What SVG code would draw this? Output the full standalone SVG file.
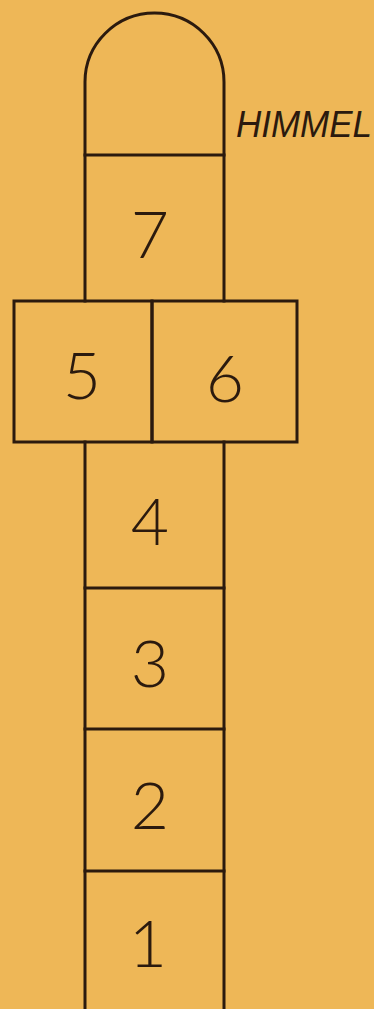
<svg xmlns="http://www.w3.org/2000/svg" width="374" height="1009" viewBox="0 0 374 1009">
<style>
.ln{fill:none;stroke:#2b1a0e;stroke-width:3;stroke-linecap:square}
.num{font-family:Lato,"Liberation Sans",sans-serif;font-weight:300;font-size:66px;fill:#2b1a0e;text-anchor:middle}
.lbl{font-family:"Liberation Sans",Arial,sans-serif;font-style:italic;font-size:36px;fill:#2b1a0e}
</style>
<rect width="374" height="1009" fill="#EEB757"/>
<g id="connectors">
<path class="ln" d="M85,301 V82 A69.5,69 0 0 1 224,82 V301"/>
<path class="ln" d="M85,442 V1009 M224,442 V1009"/>
</g>
<g id="himmel"><path class="ln" d="M85,155 H224"/><text class="lbl" x="236" y="137" textLength="136" lengthAdjust="spacingAndGlyphs">HIMMEL</text></g>
<g id="f7"><text class="num" x="150" y="258">7</text></g>
<g id="f5"><rect class="ln" x="14" y="301" width="138" height="141"/><text class="num" x="82" y="399">5</text></g>
<g id="f6"><rect class="ln" x="152" y="301" width="145" height="141"/><text class="num" x="225" y="402">6</text></g>
<g id="f4"><text class="num" x="150" y="545">4</text></g>
<g id="f3"><path class="ln" d="M85,588 H224"/><text class="num" x="150" y="687">3</text></g>
<g id="f2"><path class="ln" d="M85,729 H224"/><text class="num" x="150" y="829">2</text></g>
<g id="f1"><path class="ln" d="M85,871 H224"/><text class="num" x="148" y="967">1</text></g>
</svg>
